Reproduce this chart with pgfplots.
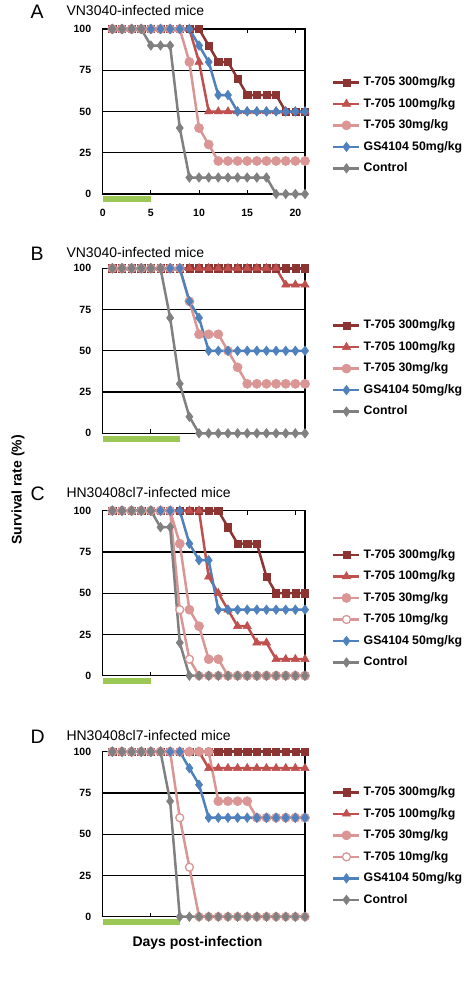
\documentclass[border=0pt]{standalone}
\usepackage{fontspec}
\setmainfont{Liberation Sans}
\usepackage{pgfplots}
\usepackage{pgfplotstable}
\pgfplotsset{compat=1.18}

\definecolor{cdr}{RGB}{140,52,50}
\definecolor{cred}{RGB}{192,80,77}
\definecolor{cpink}{RGB}{217,150,148}
\definecolor{cblue}{RGB}{79,129,189}
\definecolor{cgray}{RGB}{128,128,128}
\definecolor{cgreen}{RGB}{155,200,85}

\pgfplotstableread{
day s300 s100 s30 gs ctrl
1 100 100 100 100 100
2 100 100 100 100 100
3 100 100 100 100 100
4 100 100 100 100 100
5 100 100 100 100 90
6 100 100 100 100 90
7 100 100 100 100 90
8 100 100 100 100 40
9 100 100 80 100 10
10 100 80 40 90 10
11 90 50 30 80 10
12 80 50 20 60 10
13 80 50 20 60 10
14 70 50 20 50 10
15 60 50 20 50 10
16 60 50 20 50 10
17 60 50 20 50 10
18 60 50 20 50 0
19 50 50 20 50 0
20 50 50 20 50 0
21 50 50 20 50 0
}\tabA

\pgfplotstableread{
day s300 s100 s30 gs ctrl
1 100 100 100 100 100
2 100 100 100 100 100
3 100 100 100 100 100
4 100 100 100 100 100
5 100 100 100 100 100
6 100 100 100 100 100
7 100 100 100 100 70
8 100 100 100 100 30
9 100 100 80 80 10
10 100 100 60 70 0
11 100 100 60 50 0
12 100 100 60 50 0
13 100 100 50 50 0
14 100 100 40 50 0
15 100 100 30 50 0
16 100 100 30 50 0
17 100 100 30 50 0
18 100 100 30 50 0
19 100 90 30 50 0
20 100 90 30 50 0
21 100 90 30 50 0
}\tabB

\pgfplotstableread{
day s300 s100 s30 s10 gs ctrl
1 100 100 100 100 100 100
2 100 100 100 100 100 100
3 100 100 100 100 100 100
4 100 100 100 100 100 100
5 100 100 100 100 100 100
6 100 100 100 100 100 90
7 100 100 100 100 100 90
8 100 100 80 40 100 20
9 100 100 40 10 80 0
10 100 100 30 0 70 0
11 100 60 10 0 70 0
12 100 50 10 0 40 0
13 90 40 0 0 40 0
14 80 30 0 0 40 0
15 80 30 0 0 40 0
16 80 20 0 0 40 0
17 60 20 0 0 40 0
18 50 10 0 0 40 0
19 50 10 0 0 40 0
20 50 10 0 0 40 0
21 50 10 0 0 40 0
}\tabC

\pgfplotstableread{
day s300 s100 s30 s10 gs ctrl
1 100 100 100 100 100 100
2 100 100 100 100 100 100
3 100 100 100 100 100 100
4 100 100 100 100 100 100
5 100 100 100 100 100 100
6 100 100 100 100 100 100
7 100 100 100 100 100 70
8 100 100 100 60 100 0
9 100 100 100 30 90 0
10 100 100 100 0 80 0
11 100 90 100 0 60 0
12 100 90 70 0 60 0
13 100 90 70 0 60 0
14 100 90 70 0 60 0
15 100 90 70 0 60 0
16 100 90 60 0 60 0
17 100 90 60 0 60 0
18 100 90 60 0 60 0
19 100 90 60 0 60 0
20 100 90 60 0 60 0
21 100 90 60 0 60 0
}\tabD

\pgfplotsset{
  panel/.style={
    scale only axis, width=202.3pt, height=165pt,
    xmin=0, xmax=21, ymin=0, ymax=100,
    clip=false,
    axis line style={black, line width=1.2pt},
    ymajorgrids, grid style={black, line width=1.2pt},
    xtick={0,5,10,15,20}, ytick={0,25,50,75,100},
    tick align=inside, major tick length=4pt,
    ytick style={draw=none},
    xtick style={black, line width=1pt},
    /pgf/number format/assume math mode=true,
    ticklabel style={font=\bfseries\fontsize{10.5}{12}\selectfont},
    yticklabel style={xshift=-8pt},
    xticklabel style={yshift=-12pt},
    legend cell align=left,
    legend image code/.code={\draw[mark repeat=2,mark phase=2,##1] plot coordinates {(0pt,0pt) (13pt,0pt) (26pt,0pt)};},
    legend style={draw=none, fill=none, inner sep=0pt, anchor=west,
      font=\bfseries\fontsize{12.3}{14}\selectfont,
      nodes={inner sep=0pt, text height=9pt, text depth=2.5pt},
      row sep=10pt,
      /tikz/every odd column/.append style={column sep=3pt}},
  },
  nolabels/.style={xticklabels={}},
  s300/.style={cdr, line width=2.5pt, mark=square*, mark size=3.6pt, mark options={solid,fill=cdr,draw=cdr,line width=0.5pt}},
  s100/.style={cred, line width=2.5pt, mark=triangle*, mark size=4.8pt, mark options={solid,fill=cred,draw=cred,line width=0.5pt}},
  s30/.style={cpink, line width=2.5pt, mark=*, mark size=4.6pt, mark options={solid,fill=cpink,draw=cpink,line width=0.5pt}},
  s10/.style={cpink, line width=2.5pt, mark=*, mark size=4.0pt, mark options={solid,fill=white,draw=cpink,line width=1.3pt}},
  sgs/.style={cblue, line width=2.5pt, mark=diamond*, mark size=4.8pt, mark options={solid,fill=cblue,draw=cblue,line width=0.5pt}},
  sct/.style={cgray, line width=2.5pt, mark=diamond*, mark size=4.8pt, mark options={solid,fill=cgray,draw=cgray,line width=0.5pt}},
  gbar/.style={cgreen, line width=6pt, line cap=butt, mark=none, forget plot},
}

\begin{document}
\begin{tikzpicture}[x=1pt,y=1pt]
\useasboundingbox (0pt,0pt) rectangle (464pt,-982pt);

% ---------- Panel A ----------
\begin{axis}[panel, at={(102.7pt,-194pt)}, anchor=south west,
  legend style={at={(1.1335,0.416)}}]
\addplot[gbar] coordinates {(0,-3.2) (5,-3.2)};
\addplot[s300] table[x=day,y=s300] {\tabA};
\addplot[s100] table[x=day,y=s100] {\tabA};
\addplot[s30] table[x=day,y=s30] {\tabA};
\addplot[sgs] table[x=day,y=gs] {\tabA};
\addplot[sct] table[x=day,y=ctrl] {\tabA};
\legend{T-705 300mg/kg, T-705 100mg/kg, T-705 30mg/kg, GS4104 50mg/kg, Control}
\end{axis}
\node[anchor=base west, font=\fontsize{19.5}{22}\selectfont] at (27pt,-19pt) {A};
\node[anchor=base west, font=\fontsize{14}{16}\selectfont] at (63pt,-16pt) {VN3040-infected mice};

% ---------- Panel B ----------
\begin{axis}[panel, nolabels, at={(102.7pt,-433.3pt)}, anchor=south west,
  legend style={at={(1.1335,0.392)}}]
\addplot[gbar] coordinates {(0,-3.2) (8,-3.2)};
\addplot[s300] table[x=day,y=s300] {\tabB};
\addplot[s100] table[x=day,y=s100] {\tabB};
\addplot[s30] table[x=day,y=s30] {\tabB};
\addplot[sgs] table[x=day,y=gs] {\tabB};
\addplot[sct] table[x=day,y=ctrl] {\tabB};
\legend{T-705 300mg/kg, T-705 100mg/kg, T-705 30mg/kg, GS4104 50mg/kg, Control}
\end{axis}
\node[anchor=base west, font=\fontsize{19.5}{22}\selectfont] at (27pt,-260.6pt) {B};
\node[anchor=base west, font=\fontsize{14}{16}\selectfont] at (63pt,-257.6pt) {VN3040-infected mice};

% ---------- Panel C ----------
\begin{axis}[panel, nolabels, at={(102.7pt,-675.7pt)}, anchor=south west,
  legend style={at={(1.1335,0.406)}}]
\addplot[gbar] coordinates {(0,-3.2) (5,-3.2)};
\addplot[s300] table[x=day,y=s300] {\tabC};
\addplot[s100] table[x=day,y=s100] {\tabC};
\addplot[s30] table[x=day,y=s30] {\tabC};
\addplot[s10] table[x=day,y=s10] {\tabC};
\addplot[sgs] table[x=day,y=gs] {\tabC};
\addplot[sct] table[x=day,y=ctrl] {\tabC};
\legend{T-705 300mg/kg, T-705 100mg/kg, T-705 30mg/kg, T-705 10mg/kg, GS4104 50mg/kg, Control}
\end{axis}
\node[anchor=base west, font=\fontsize{19.5}{22}\selectfont] at (27pt,-500.3pt) {C};
\node[anchor=base west, font=\fontsize{14}{16}\selectfont] at (63pt,-497.3pt) {HN30408cl7-infected mice};

% ---------- Panel D ----------
\begin{axis}[panel, nolabels, at={(102.7pt,-916.7pt)}, anchor=south west,
  legend style={at={(1.1335,0.428)}}]
\addplot[gbar] coordinates {(0,-3.2) (8,-3.2)};
\addplot[s300] table[x=day,y=s300] {\tabD};
\addplot[s100] table[x=day,y=s100] {\tabD};
\addplot[s30] table[x=day,y=s30] {\tabD};
\addplot[s10] table[x=day,y=s10] {\tabD};
\addplot[sgs] table[x=day,y=gs] {\tabD};
\addplot[sct] table[x=day,y=ctrl] {\tabD};
\legend{T-705 300mg/kg, T-705 100mg/kg, T-705 30mg/kg, T-705 10mg/kg, GS4104 50mg/kg, Control}
\end{axis}
\node[anchor=base west, font=\fontsize{19.5}{22}\selectfont] at (27pt,-743pt) {D};
\node[anchor=base west, font=\fontsize{14}{16}\selectfont] at (63pt,-740pt) {HN30408cl7-infected mice};

% ---------- common labels ----------
\node[rotate=90, font=\bfseries\fontsize{14}{16}\selectfont] at (18pt,-490pt) {Survival rate (\%)};
\node[font=\bfseries\fontsize{14}{16}\selectfont] at (197.5pt,-943pt) {Days post-infection};
\end{tikzpicture}
\end{document}
